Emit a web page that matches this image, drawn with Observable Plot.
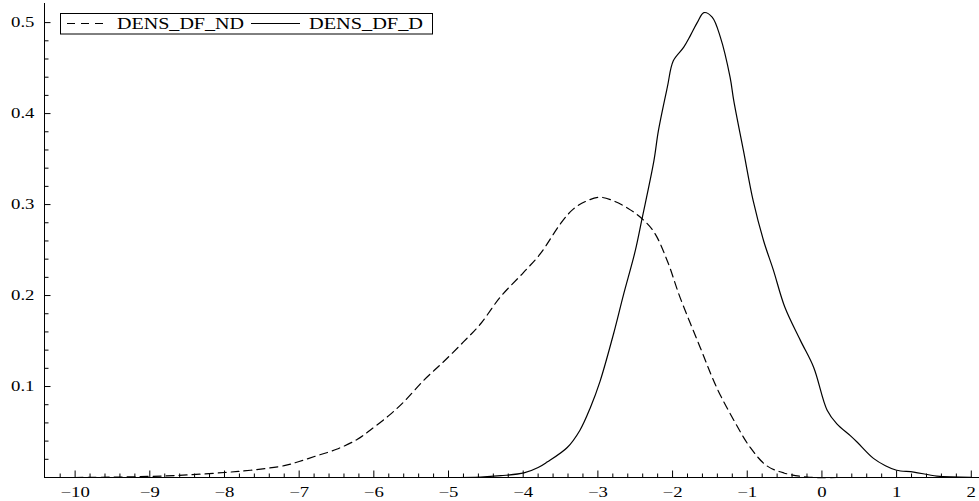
<!DOCTYPE html>
<html>
<head>
<meta charset="utf-8">
<script src="https://cdn.jsdelivr.net/npm/d3@7"></script>
<script src="https://cdn.jsdelivr.net/npm/@observablehq/plot@0.6"></script>
<style>
  html, body { margin: 0; padding: 0; background: #fff; }
  #chart { width: 979px; height: 501px; }
</style>
</head>
<body>
<div id="chart"></div>
<script>
// Series: DENS_DF_ND (dashed)
const ndX = [-10.0, -9.5, -9.0, -8.5, -8.0, -7.65, -7.2, -7.0, -6.76, -6.5, -6.22, -6.05, -5.8, -5.6, -5.33, -5.07, -4.8, -4.57, -4.31, -4.0, -3.77, -3.5, -3.33, -3.15, -2.97, -2.79, -2.6, -2.43, -2.25, -2.07, -1.9, -1.63, -1.41, -1.18, -0.96, -0.74, -0.51, -0.2, 0.2];
const ndY = [0.0, 0.0004, 0.0012, 0.0028, 0.0055, 0.008, 0.013, 0.0176, 0.024, 0.031, 0.042, 0.052, 0.068, 0.083, 0.107, 0.127, 0.149, 0.169, 0.198, 0.225, 0.246, 0.279, 0.295, 0.304, 0.308, 0.304, 0.296, 0.286, 0.270, 0.238, 0.198, 0.143, 0.099, 0.063, 0.033, 0.013, 0.005, 0.0005, 0.0];

// Series: DENS_DF_D (solid)
const dX = [-5.0, -4.57, -4.3, -3.99, -3.8, -3.68, -3.41, -3.24, -3.10, -2.97, -2.79, -2.66, -2.5, -2.41, -2.25, -2.19, -2.07, -1.99, -1.85, -1.76, -1.67, -1.58, -1.47, -1.36, -1.23, -1.18, -1.05, -0.92, -0.78, -0.65, -0.5, -0.29, -0.11, 0.07, 0.2, 0.38, 0.47, 0.69, 0.85, 1.0, 1.23, 1.54, 2.0];
const dY = [0.0, 0.0005, 0.002, 0.005, 0.011, 0.017, 0.033, 0.052, 0.077, 0.106, 0.158, 0.200, 0.249, 0.284, 0.348, 0.381, 0.429, 0.458, 0.473, 0.486, 0.500, 0.511, 0.506, 0.484, 0.440, 0.414, 0.359, 0.304, 0.260, 0.228, 0.188, 0.151, 0.121, 0.074, 0.059, 0.046, 0.039, 0.021, 0.013, 0.008, 0.006, 0.0015, 0.0003];

const seriesNames = ["DENS_DF_ND", "DENS_DF_D"];

// Tick values
const xMajor = [-10, -9, -8, -7, -6, -5, -4, -3, -2, -1, 0, 1, 2];
const xMinor = [-10.2, -9.8, -9.6, -9.4, -9.2, -8.8, -8.6, -8.4, -8.2, -7.8, -7.6, -7.4, -7.2, -6.8, -6.6, -6.4, -6.2, -5.8, -5.6, -5.4, -5.2, -4.8, -4.6, -4.4, -4.2, -3.8, -3.6, -3.4, -3.2, -2.8, -2.6, -2.4, -2.2, -1.8, -1.6, -1.4, -1.2, -0.8, -0.6, -0.4, -0.2, 0.2, 0.4, 0.6, 0.8, 1.2, 1.4, 1.6, 1.8];
const yMajor = [0.1, 0.2, 0.3, 0.4, 0.5];
const yMinor = [0.02, 0.04, 0.06, 0.08, 0.12, 0.14, 0.16, 0.18, 0.22, 0.24, 0.26, 0.28, 0.32, 0.34, 0.36, 0.38, 0.42, 0.44, 0.46, 0.48];

const nd = ndX.map((x, i) => ({x, y: ndY[i]}));
const dd = dX.map((x, i) => ({x, y: dY[i]}));

const FONT = "Liberation Serif, Times New Roman, serif";
const X0 = -10.41;

const plot = Plot.plot({
  width: 979,
  height: 501,
  marginLeft: 44,
  marginRight: 0,
  marginTop: 3,
  marginBottom: 24,
  style: {fontFamily: FONT, background: "#fff", overflow: "visible"},
  x: {domain: [X0, 2.11]},
  y: {domain: [0, 0.521]},
  marks: [
    Plot.ruleY([0], {stroke: "black", strokeWidth: 1}),
    Plot.ruleX([X0], {stroke: "black", strokeWidth: 1}),
    Plot.axisX(xMajor, {tickSize: 6.5, dy: -6.5, text: null, label: null, stroke: "black", strokeOpacity: 1}),
    Plot.axisX(xMinor, {tickSize: 3.5, dy: -3.5, text: null, label: null, stroke: "black", strokeOpacity: 1}),
    Plot.axisX(xMajor, {tickSize: 0, tickPadding: 9, label: null, fontSize: 15, fill: "black", tickFormat: d3.format("d")}),
    Plot.axisY(yMajor, {tickSize: 6.5, dx: 6.5, text: null, label: null, stroke: "black", strokeOpacity: 1}),
    Plot.axisY(yMinor, {tickSize: 4.5, dx: 4.5, text: null, label: null, stroke: "black", strokeOpacity: 1}),
    Plot.axisY(yMajor, {tickSize: 0, tickPadding: 10, label: null, fontSize: 15, fill: "black", tickFormat: d3.format(".1f")}),
    Plot.line(nd, {x: "x", y: "y", stroke: "black", strokeWidth: 1.2, strokeDasharray: "8,5", curve: "catmull-rom"}),
    Plot.line(dd, {x: "x", y: "y", stroke: "black", strokeWidth: 1.2, curve: "catmull-rom"})
  ]
});

document.getElementById("chart").appendChild(plot);

// Widen tick label glyphs horizontally to match reference typography
d3.select(plot).selectAll('g[aria-label="x-axis tick label"] text, g[aria-label="y-axis tick label"] text')
  .each(function() {
    const t = this.getAttribute("transform") || "";
    this.setAttribute("transform", t + " scale(1.25,1)");
  });

// Legend inside the plot area (top-left)
const svg = d3.select(plot);
const lg = svg.append("g").attr("font-family", FONT).attr("font-size", 16).attr("text-anchor", "start");
lg.append("rect").attr("x", 60.5).attr("y", 13.5).attr("width", 372).attr("height", 20.5)
  .attr("fill", "white").attr("stroke", "black").attr("stroke-width", 1);
lg.append("line").attr("x1", 67).attr("x2", 103).attr("y1", 23.5).attr("y2", 23.5)
  .attr("stroke", "black").attr("stroke-width", 1).attr("stroke-dasharray", "8,6");
lg.append("text").attr("x", 117).attr("y", 28.5).attr("textLength", 127).attr("text-anchor", "start")
  .attr("lengthAdjust", "spacingAndGlyphs").attr("fill", "black").text(seriesNames[0]);
lg.append("line").attr("x1", 251).attr("x2", 300).attr("y1", 23.5).attr("y2", 23.5)
  .attr("stroke", "black").attr("stroke-width", 1);
lg.append("text").attr("x", 309).attr("y", 28.5).attr("textLength", 114).attr("text-anchor", "start")
  .attr("lengthAdjust", "spacingAndGlyphs").attr("fill", "black").text(seriesNames[1]);
</script>
</body>
</html>
